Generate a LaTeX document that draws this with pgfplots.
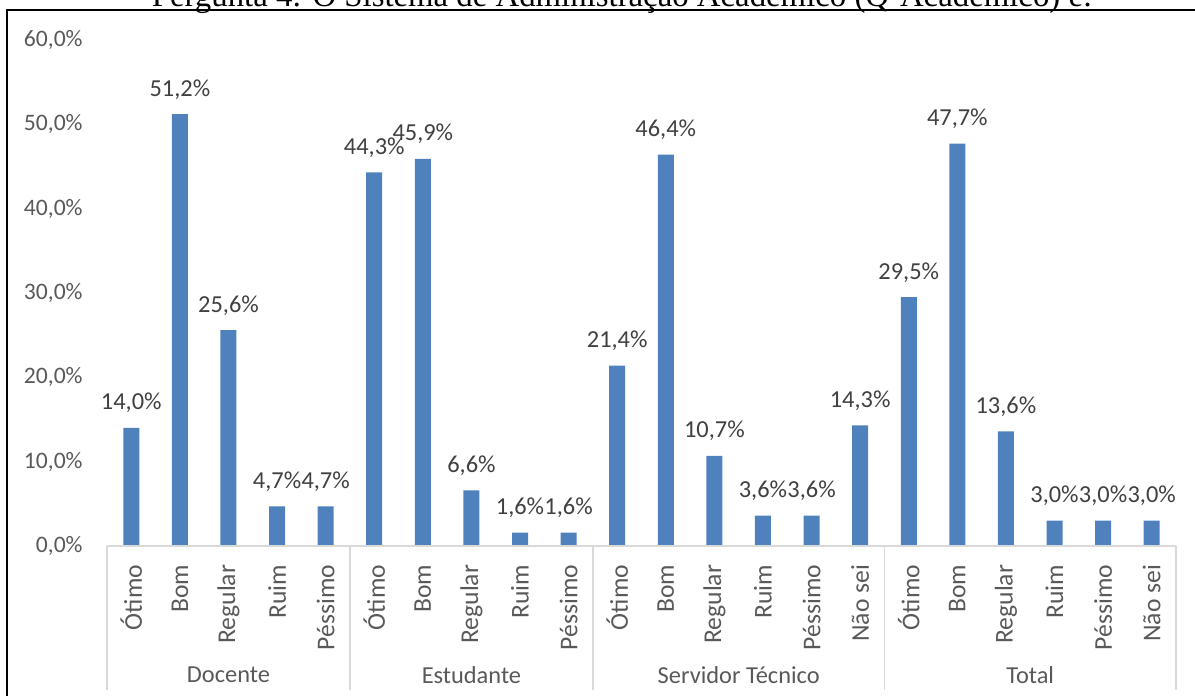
\documentclass[border=0pt]{standalone}
\usepackage{pgfplots}
\pgfplotsset{compat=1.18}
\usepackage{fontspec}
\setmainfont{Carlito}
\newfontfamily\timesf{Liberation Serif}
\definecolor{barblue}{HTML}{4F81BD}
\definecolor{ticktxt}{HTML}{595959}
\definecolor{lbltxt}{HTML}{404040}
\definecolor{sepgray}{HTML}{D9D9D9}
\begin{document}
\begin{tikzpicture}[x=1pt,y=1pt]
\path[use as bounding box] (-53.5,-75) rectangle (544,273);
\draw[black, line width=1pt] (-50,-90) -- (-50,268) -- (560,268);
\node[anchor=base, font=\timesf\fontsize{16.4}{19}\selectfont, inner sep=0pt] at (257.5,269.5) {Pergunta 4: O Sistema de Administração Acadêmico (Q-Acadêmico) é:};
\begin{axis}[
  at={(0,0)}, anchor=south west,
  scale only axis, width=534.5pt, height=253pt,
  xmin=-0.5, xmax=21.5, ymin=0, ymax=60,
  axis line style={draw=none},
  tick style={draw=none},
  clip=false,
  /pgf/number format/assume math mode=true,
  ytick={0,10,...,60},
  yticklabel={\pgfmathprintnumber[fixed,fixed zerofill,precision=1,use comma]{\tick}\%},
  yticklabel style={font=\fontsize{11.8}{13}\selectfont, text=ticktxt, anchor=east, inner sep=0pt, xshift=-12pt},
  xtick={0,...,21},
  xticklabels={Ótimo,Bom,Regular,Ruim,Péssimo,Ótimo,Bom,Regular,Ruim,Péssimo,Ótimo,Bom,Regular,Ruim,Péssimo,Não sei,Ótimo,Bom,Regular,Ruim,Péssimo,Não sei},
  xticklabel style={font=\fontsize{12.8}{14}\selectfont, text=ticktxt, rotate=90, anchor=east, inner sep=0pt},
  xticklabel shift=5pt,
  ybar, bar width=8pt,
  nodes near coords={\pgfmathprintnumber[fixed,fixed zerofill,precision=1,use comma]{\pgfplotspointmeta}\%},
  every node near coord/.append style={font=\fontsize{12.2}{13}\selectfont, text=lbltxt, anchor=base, inner sep=0pt, yshift=9pt},
]
\addplot[fill=barblue, draw=none] coordinates {
(0,14.0) (1,51.2) (2,25.6) (3,4.7) (4,4.7)
(5,44.3) (6,45.9) (7,6.6) (8,1.6) (9,1.6)
(10,21.4) (11,46.4) (12,10.7) (13,3.6) (14,3.6) (15,14.3)
(16,29.5) (17,47.7) (18,13.6) (19,3.0) (20,3.0) (21,3.0)
};
\draw[sepgray, line width=0.6pt] (axis cs:-0.5,0) -- (axis cs:21.5,0);
\draw[sepgray, line width=0.6pt] (axis cs:-0.5,0) -- ([yshift=-72pt]axis cs:-0.5,0);
\draw[sepgray, line width=0.6pt] (axis cs:4.5,0) -- ([yshift=-72pt]axis cs:4.5,0);
\draw[sepgray, line width=0.6pt] (axis cs:9.5,0) -- ([yshift=-72pt]axis cs:9.5,0);
\draw[sepgray, line width=0.6pt] (axis cs:15.5,0) -- ([yshift=-72pt]axis cs:15.5,0);
\draw[sepgray, line width=0.6pt] (axis cs:21.5,0) -- ([yshift=-72pt]axis cs:21.5,0);
\node[font=\fontsize{12.2}{13}\selectfont, text=ticktxt] at ([yshift=-64.5pt]axis cs:2,0) {Docente};
\node[font=\fontsize{12.2}{13}\selectfont, text=ticktxt] at ([yshift=-64.5pt]axis cs:7,0) {Estudante};
\node[font=\fontsize{12.2}{13}\selectfont, text=ticktxt] at ([yshift=-64.5pt]axis cs:12.5,0) {Servidor Técnico};
\node[font=\fontsize{12.2}{13}\selectfont, text=ticktxt] at ([yshift=-64.5pt]axis cs:18.5,0) {Total};
\end{axis}
\end{tikzpicture}
\end{document}
